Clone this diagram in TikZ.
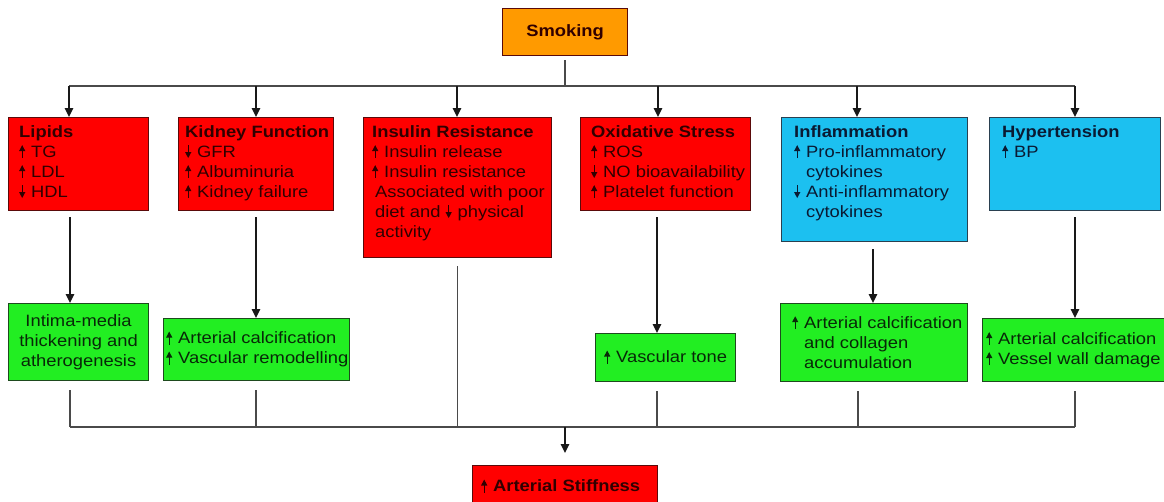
\documentclass[tikz,border=0pt]{standalone}
\usepackage{fontspec}
\setmainfont{Liberation Sans}[FakeStretch=1.12]
\usetikzlibrary{arrows.meta}
\definecolor{cred}{HTML}{FF0000}
\definecolor{corange}{HTML}{FF9A00}
\definecolor{ccyan}{HTML}{1CC0F0}
\definecolor{cgreen}{HTML}{22EE22}
\definecolor{cline}{HTML}{4A4A4A}
\definecolor{tred}{HTML}{300000}
\definecolor{tblue}{HTML}{0A1A33}
\definecolor{tgreen}{HTML}{082808}
\definecolor{bred}{HTML}{5A0A0A}
\definecolor{bblue}{HTML}{2A4050}
\definecolor{bgreen}{HTML}{1E4A1E}
\newcommand\upar{\makebox[12pt][l]{\tikz[baseline=0pt]\draw[line width=1.1pt,-{Triangle[length=6pt,width=6pt]}] (0pt,-1pt)--(0pt,12pt);}}
\newcommand\dnar{\makebox[12pt][l]{\tikz[baseline=0pt]\draw[line width=1.1pt,-{Triangle[length=6pt,width=6pt]}] (0pt,12pt)--(0pt,-1pt);}}
\newcommand\indt{\hspace{12pt}}
\tikzset{
  boxbase/.style={rectangle, inner sep=0pt, line width=1.1pt, anchor=north west},
  redbox/.style={boxbase, draw=bred, fill=cred},
  orangebox/.style={boxbase, draw=bred, fill=corange},
  bluebox/.style={boxbase, draw=bblue, fill=ccyan},
  greenbox/.style={boxbase, draw=bgreen, fill=cgreen},
  txt/.style={inner sep=0pt, align=left, font=\fontsize{16.4}{20}\selectfont},
  conn/.style={draw=cline, line width=1.5pt},
  arr/.style={draw=black!90, line width=1.3pt, -{Triangle[length=9pt,width=8.5pt]}},
}
\begin{document}
\begin{tikzpicture}[x=1pt,y=-1pt]
\clip (0,0) rectangle (1164,501);
\fill[white] (0,0) rectangle (1164,501);

% Smoking
\node[orangebox, minimum width=125pt, minimum height=47pt] (smk) at (502,8) {};
\node[txt, text=tred, font=\fontsize{16.4}{20}\selectfont\bfseries] (smkT) at (smk.center) {Smoking};

% top row boxes
\node[redbox, minimum width=140pt, minimum height=93pt] (lip) at (8,117) {};
\node[redbox, minimum width=155pt, minimum height=93pt] (kid) at (178,117) {};
\node[redbox, minimum width=188pt, minimum height=140pt] (ins) at (363,117) {};
\node[redbox, minimum width=170pt, minimum height=93pt] (oxi) at (580,117) {};
\node[bluebox, minimum width=186pt, minimum height=124pt] (inf) at (781,117) {};
\node[bluebox, minimum width=171pt, minimum height=93pt] (hyp) at (989,117) {};

\node[txt, text=tred, anchor=north west] (lipT) at (19,125)
  {\textbf{Lipids}\\\upar TG\\\upar LDL\\\dnar HDL};
\node[txt, text=tred, anchor=north west] (kidT) at (185,125)
  {\textbf{Kidney Function}\\\dnar GFR\\\upar Albuminuria\\\upar Kidney failure};
\node[txt, text=tred, anchor=north west] (insT) at (372,125)
  {\textbf{Insulin Resistance}\\\upar Insulin release\\\upar Insulin resistance\\\hspace{3pt}Associated with poor\\\hspace{3pt}diet and \dnar physical\\\hspace{3pt}activity};
\node[txt, text=tred, anchor=north west] (oxiT) at (591,125)
  {\textbf{Oxidative Stress}\\\upar ROS\\\dnar NO bioavailability\\\upar Platelet function};
\node[txt, text=tblue, anchor=north west] (infT) at (794,125)
  {\textbf{Inflammation}\\\upar Pro-inflammatory\\\indt cytokines\\\dnar Anti-inflammatory\\\indt cytokines};
\node[txt, text=tblue, anchor=north west] (hypT) at (1002,125)
  {\textbf{Hypertension}\\\upar BP};

% green boxes
\node[greenbox, minimum width=140pt, minimum height=77pt] (g1) at (8,303) {};
\node[greenbox, minimum width=186pt, minimum height=62pt] (g2) at (163,318) {};
\node[greenbox, minimum width=140pt, minimum height=48pt] (g3) at (595,333) {};
\node[greenbox, minimum width=187pt, minimum height=78pt] (g4) at (780,303) {};
\node[greenbox, minimum width=200pt, minimum height=63pt] (g5) at (982,318) {};

\node[txt, text=tgreen, align=center] (g1T) at (g1.center) {Intima-media\\thickening and\\atherogenesis};
\node[txt, text=tgreen, anchor=west] (g2T) at (166,349) {\upar Arterial calcification\\\upar Vascular remodelling};
\node[txt, text=tgreen, anchor=west] (g3T) at (604,357) {\upar Vascular tone};
\node[txt, text=tgreen, anchor=west] (g4T) at (792,342) {\upar Arterial calcification\\\indt and collagen\\\indt accumulation};
\node[txt, text=tgreen, anchor=west] (g5T) at (986,349.5) {\upar Arterial calcification\\\upar Vessel wall damage};

% bottom box
\node[redbox, minimum width=185pt, minimum height=42pt] (stf) at (472,465) {};
\node[txt, text=tred, anchor=west, font=\fontsize{16.4}{20}\selectfont\bfseries] (stfT) at (481,486) {\upar Arterial Stiffness};

% upper bus
\coordinate (bus) at (565,86);
\coordinate (a1) at (69,86);
\coordinate (a2) at (256,86);
\coordinate (a3) at (457,86);
\coordinate (a4) at (658,86);
\coordinate (a5) at (857,86);
\coordinate (a6) at (1075,86);
\draw[conn, shorten <=4pt] (smk.south -| bus) -- (bus);
\draw[conn] (a1) -- (a6);
\draw[arr] (a1) -- (a1 |- lip.north);
\draw[arr] (a2) -- (a2 |- kid.north);
\draw[arr] (a3) -- (a3 |- ins.north);
\draw[arr] (a4) -- (a4 |- oxi.north);
\draw[arr] (a5) -- (a5 |- inf.north);
\draw[arr] (a6) -- (a6 |- hyp.north);

% middle connectors
\coordinate (m1) at (70,0);
\coordinate (m2) at (256,0);
\coordinate (m4) at (657,0);
\coordinate (m5) at (873,0);
\coordinate (m6) at (1075,0);
\draw[arr, shorten <=6pt] (m1 |- lip.south) -- (m1 |- g1.north);
\draw[arr, shorten <=6pt] (m2 |- kid.south) -- (m2 |- g2.north);
\draw[arr, shorten <=6pt] (m4 |- oxi.south) -- (m4 |- g3.north);
\draw[arr, shorten <=7pt] (m5 |- inf.south) -- (m5 |- g4.north);
\draw[arr, shorten <=6pt] (m6 |- hyp.south) -- (m6 |- g5.north);

% lower bus
\coordinate (c1) at (70,427);
\coordinate (c2) at (256,427);
\coordinate (c3) at (457.5,427);
\coordinate (c4) at (657,427);
\coordinate (c5) at (858,427);
\coordinate (c6) at (1075,427);
\coordinate (bus2) at (565,427);
\draw[conn, shorten <=9pt] (c1 |- g1.south) -- (c1);
\draw[conn, shorten <=9pt] (c2 |- g2.south) -- (c2);
\draw[conn, shorten <=8pt] (c3 |- ins.south) -- (c3);
\draw[conn, shorten <=9pt] (c4 |- g3.south) -- (c4);
\draw[conn, shorten <=9pt] (c5 |- g4.south) -- (c5);
\draw[conn, shorten <=9pt] (c6 |- g5.south) -- (c6);
\draw[conn] (c1) -- (c6);
\draw[arr, shorten >=12pt] (bus2) -- (bus2 |- stf.north);
\end{tikzpicture}
\end{document}
